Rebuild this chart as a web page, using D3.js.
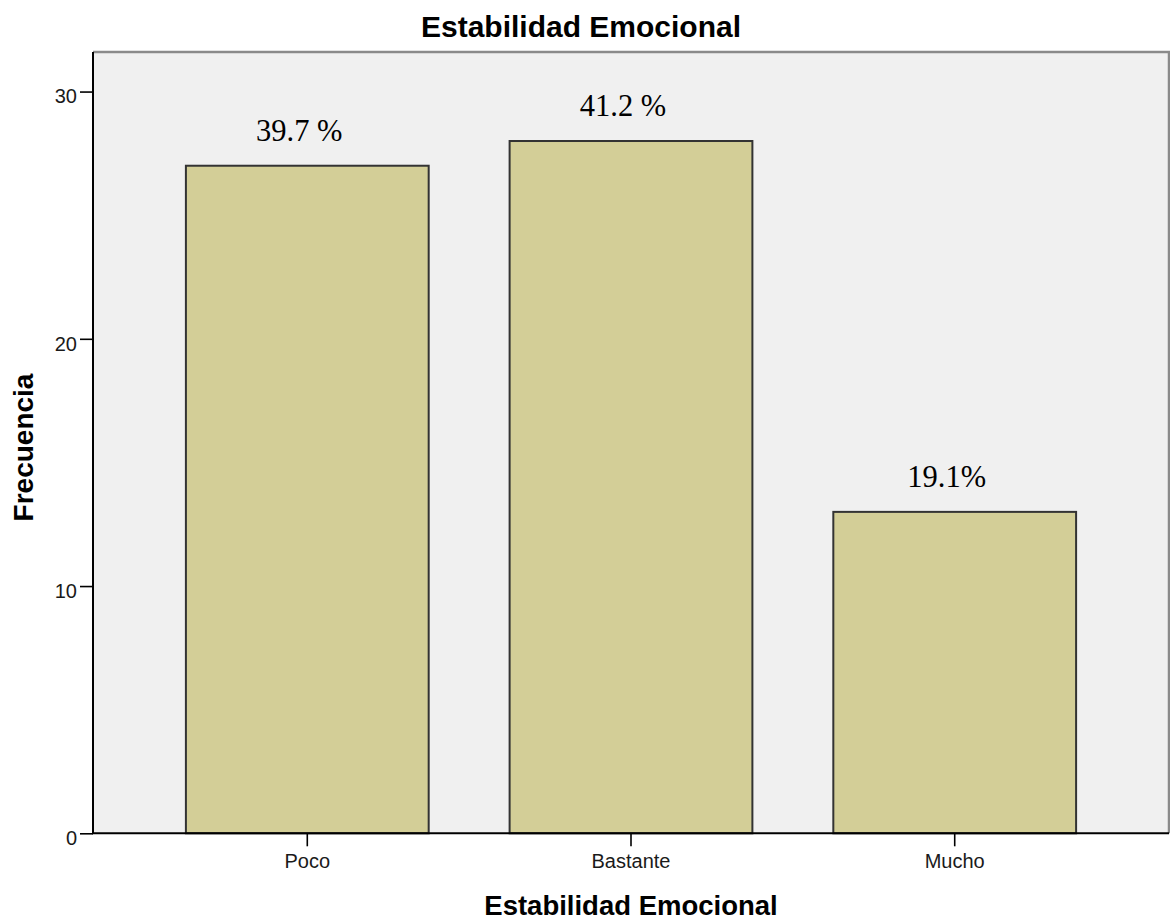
<!DOCTYPE html>
<html>
<head>
<meta charset="utf-8">
<script src="https://cdn.jsdelivr.net/npm/d3@7"></script>
<style>
  html, body { margin: 0; padding: 0; background: #ffffff; }
  svg { display: block; }
</style>
</head>
<body>
<svg id="chart" width="1170" height="920"></svg>
<script>
// Frequency of each level of emotional stability
const categories = ["Poco", "Bastante", "Mucho"];
const frequencies = [27, 28, 13];
const percentLabels = ["39.7 %", "41.2 %", "19.1%"];
const yTicks = [0, 10, 20, 30];

const W = 1170, H = 920;
const plot = { left: 93, right: 1169, top: 52, bottom: 833.3 };

const svg = d3.select("#chart");

const x = d3.scaleBand()
  .domain(categories)
  .range([plot.left, plot.right])
  .paddingInner(0.25)
  .paddingOuter(0.287);

const y = d3.scaleLinear()
  .domain([0, 31.6])
  .range([plot.bottom, plot.top]);

// plot background and frame
svg.append("rect")
  .attr("x", plot.left).attr("y", plot.top)
  .attr("width", plot.right - plot.left)
  .attr("height", plot.bottom - plot.top)
  .attr("fill", "#f0f0f0");

svg.append("path")
  .attr("d", `M${plot.left},${plot.top}H${plot.right}V${plot.bottom}`)
  .attr("fill", "none")
  .attr("stroke", "#8a8a8a")
  .attr("stroke-width", 2.5);

// bars
svg.append("g")
  .selectAll("rect")
  .data(categories)
  .join("rect")
  .attr("x", d => x(d))
  .attr("y", (d, i) => y(frequencies[i]))
  .attr("width", x.bandwidth())
  .attr("height", (d, i) => y(0) - y(frequencies[i]))
  .attr("fill", "#d3ce97")
  .attr("stroke", "#333333")
  .attr("stroke-width", 2);

// percentage labels above bars
svg.append("g")
  .selectAll("text")
  .data(categories)
  .join("text")
  .attr("x", d => x(d) + x.bandwidth() / 2 - 8)
  .attr("y", (d, i) => y(frequencies[i]) - 25)
  .attr("text-anchor", "middle")
  .attr("font-family", "'Liberation Serif', 'Times New Roman', serif")
  .attr("font-size", 30.5)
  .attr("fill", "#000")
  .text((d, i) => percentLabels[i]);

// axes
const yAxis = svg.append("g")
  .attr("transform", `translate(${plot.left},0)`)
  .call(d3.axisLeft(y).tickValues(yTicks).tickFormat(d3.format("d")).tickSize(13).tickPadding(3));

const xAxis = svg.append("g")
  .attr("transform", `translate(0,${plot.bottom})`)
  .call(d3.axisBottom(x).tickSize(13).tickPadding(7.5));

[yAxis, xAxis].forEach(g => {
  g.select(".domain").remove();
  g.selectAll(".tick line").attr("stroke", "#000").attr("stroke-width", 1.6);
  g.selectAll(".tick text")
    .attr("font-family", "'Liberation Sans', Arial, sans-serif")
    .attr("font-size", 20)
    .attr("fill", "#1a1a1a");
});
yAxis.selectAll(".tick text").attr("dy", "0.57em");

// axis lines
svg.append("path")
  .attr("d", `M${plot.left},${plot.top}V${plot.bottom}H${plot.right}`)
  .attr("fill", "none")
  .attr("stroke", "#000")
  .attr("stroke-width", 2);

// titles
svg.append("text")
  .attr("x", 581).attr("y", 37)
  .attr("text-anchor", "middle")
  .attr("font-family", "'Liberation Sans', Arial, sans-serif")
  .attr("font-weight", "bold")
  .attr("font-size", 30)
  .text("Estabilidad Emocional");

svg.append("text")
  .attr("x", (plot.left + plot.right) / 2).attr("y", 915)
  .attr("text-anchor", "middle")
  .attr("font-family", "'Liberation Sans', Arial, sans-serif")
  .attr("font-weight", "bold")
  .attr("font-size", 27.5)
  .text("Estabilidad Emocional");

svg.append("text")
  .attr("transform", `translate(33,${(373 + 522) / 2}) rotate(-90)`)
  .attr("text-anchor", "middle")
  .attr("font-family", "'Liberation Sans', Arial, sans-serif")
  .attr("font-weight", "bold")
  .attr("font-size", 28)
  .text("Frecuencia");
</script>
</body>
</html>
